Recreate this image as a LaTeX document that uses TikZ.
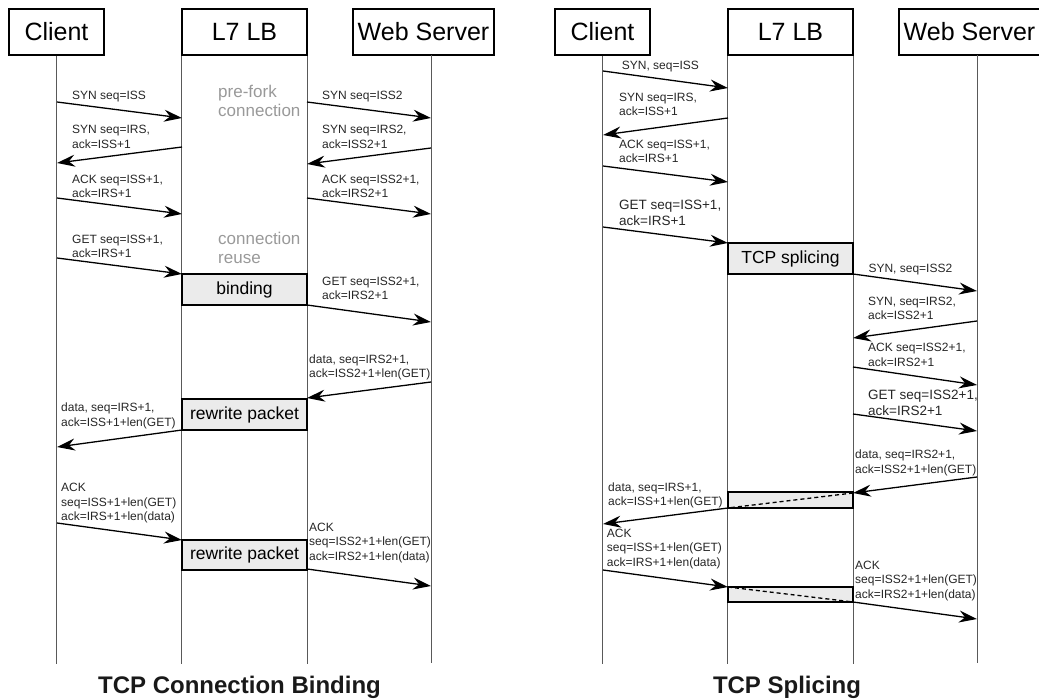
\documentclass[tikz,border=0pt]{standalone}
\usepackage{fontspec}
\setmainfont{Liberation Sans}
\usetikzlibrary{
	positioning,
	arrows.meta
}

\tikzset{
	head/.style={draw, line width=1.1pt, minimum height=46pt, inner sep=0pt, font=\fontsize{25}{25}\selectfont},
	life/.style={draw=black!65, line width=0.9pt},
	msg/.style={-{Stealth[length=18pt,width=12pt,inset=6pt]}, line width=1.3pt},
	lbl/.style={anchor=west, align=left, inner sep=0pt, text=black!85, font=\fontsize{12}{14.5}\selectfont},
	biglbl/.style={lbl, font=\fontsize{13.5}{15.5}\selectfont},
	note/.style={anchor=west, align=left, inner sep=0pt, text=black!40, font=\fontsize{17}{19.5}\selectfont},
	proc/.style={draw, fill=black!8, line width=1.6pt, minimum width=125pt, inner sep=0pt, font=\fontsize{17.5}{17.5}\selectfont},
	caption/.style={font=\bfseries\fontsize{24}{24}\selectfont, text=black!90}
}

\begin{document}
\begin{tikzpicture}[x=1pt, y=-1pt]
		\useasboundingbox (0,0) rectangle (1039,700);

		% the three lanes, once per diagram
		\foreach \dx/\p in {0/l, 546/r} {
			\begin{scope}[xshift=\dx]
				\node[head, minimum width=95pt] (\p cl) at (56.5,32) {Client};
				\node[head, minimum width=125pt] (\p lb) at (244.5,32) {L7 LB};
				\node[head, minimum width=141pt] (\p ws) at (423.5,32) {Web Server};
				\coordinate (\p wstop) at (431,55);
				\draw[life] (\p cl.south) -- ++(0,608);
				\draw[life] (\p lb.south west) -- ++(0,608);
				\draw[life] (\p lb.south east) -- ++(0,608);
				\draw[life] (\p wstop) -- ++(0,608);
			\end{scope}
		}

		% connection binding
		\node[note] (prefork) at (218,101) {pre-fork\\connection};
		\node[note] (reuse) at (218,248) {connection\\reuse};
		\node[proc, minimum height=31pt] (bind) at (244.5,289.5) {binding};
		\node[proc, minimum height=31pt] (rw1) at (244.5,414.5) {rewrite packet};
		\node[proc, minimum height=30pt] (rw2) at (244.5,555) {rewrite packet};

		\foreach \n/\xa/\ya/\xb/\yb in {1/57/102/182/118, 2/182/147/57/163, 3/57/198/182/214,
				4/57/258/182/274, 5/307/102/431/118, 6/431/148/307/164, 7/307/198/431/214,
				8/307/305/431/322, 9/431/382/307/398, 10/182/430/57/447, 11/57/523/182/540,
				12/307/569/431/586} {
			\coordinate (ls\n) at (\xa,\ya);
			\coordinate (le\n) at (\xb,\yb);
			\draw[msg] (ls\n) -- (le\n);
		}

		\node[lbl] (lm1) at (72,97) {SYN seq=ISS};
		\node[lbl] (lm2) at (72,137) {SYN seq=IRS,\\ack=ISS+1};
		\node[lbl] (lm3) at (72,186.5) {ACK seq=ISS+1,\\ack=IRS+1};
		\node[lbl] (lm4) at (72,246.5) {GET seq=ISS+1,\\ack=IRS+1};
		\node[lbl] (lm5) at (322,97) {SYN seq=ISS2};
		\node[lbl] (lm6) at (322,137) {SYN seq=IRS2,\\ack=ISS2+1};
		\node[lbl] (lm7) at (322,186.5) {ACK seq=ISS2+1,\\ack=IRS2+1};
		\node[lbl] (lm8) at (322,288.5) {GET seq=ISS2+1,\\ack=IRS2+1};
		\node[lbl] (lm9) at (309,367.5) {data, seq=IRS2+1,\\ack=ISS2+1+len(GET)};
		\node[lbl] (lm10) at (61,416) {data, seq=IRS+1,\\ack=ISS+1+len(GET)};
		\node[lbl] (lm11) at (61,503.3) {ACK\\seq=ISS+1+len(GET)\\ack=IRS+1+len(data)};
		\node[lbl] (lm12) at (309,543) {ACK\\seq=ISS2+1+len(GET)\\ack=IRS2+1+len(data)};

		\node[caption] (ltitle) at (239.5,687) {TCP Connection Binding};

		% splicing
		\begin{scope}[xshift=546]
			\node[proc, minimum height=31pt] (splice) at (244.5,258.5) {TCP splicing};
			\node[proc, minimum height=16pt] (pass1) at (244.5,500) {};
			\node[proc, minimum height=15pt] (pass2) at (244.5,594.5) {};

			\foreach \n/\xa/\ya/\xb/\yb in {1/57/71/182/88, 2/182/118/57/135, 3/57/166/182/182,
					4/57/227/182/243, 5/307/274/431/291, 6/431/321/307/338, 7/307/367/431/385,
					8/307/414/431/431, 9/431/477/307/493, 10/182/508/57/524, 11/57/570/182/587,
					12/307/602/431/619} {
				\coordinate (rs\n) at (\xa,\ya);
				\coordinate (re\n) at (\xb,\yb);
				\draw[msg] (rs\n) -- (re\n);
			}
			\draw[line width=1.3pt, dash pattern=on 4pt off 3pt] (re9) -- (rs10);
			\draw[line width=1.3pt, dash pattern=on 4pt off 3pt] (re11) -- (rs12);

			\node[lbl] (rm1) at (75.7,66.7) {SYN, seq=ISS};
			\node[lbl] (rm2) at (73,104.5) {SYN seq=IRS,\\ack=ISS+1};
			\node[lbl] (rm3) at (73,151.5) {ACK seq=ISS+1,\\ack=IRS+1};
			\node[biglbl] (rm4) at (73,213) {GET seq=ISS+1,\\ack=IRS+1};
			\node[lbl] (rm5) at (322.3,270) {SYN, seq=ISS2};
			\node[lbl] (rm6) at (322,308.5) {SYN, seq=IRS2,\\ack=ISS2+1};
			\node[lbl] (rm7) at (322,355) {ACK seq=ISS2+1,\\ack=IRS2+1};
			\node[biglbl] (rm8) at (322,403) {GET seq=ISS2+1,\\ack=IRS2+1};
			\node[lbl] (rm9) at (309,463) {data, seq=IRS2+1,\\ack=ISS2+1+len(GET)};
			\node[lbl] (rm10) at (62,495.5) {data, seq=IRS+1,\\ack=ISS+1+len(GET)};
			\node[lbl] (rm11) at (60.7,549) {ACK\\seq=ISS+1+len(GET)\\ack=IRS+1+len(data)};
			\node[lbl] (rm12) at (309,581) {ACK\\seq=ISS2+1+len(GET)\\ack=IRS2+1+len(data)};

			\node[caption] (rtitle) at (241,687) {TCP Splicing};
		\end{scope}
	\end{tikzpicture}
\end{document}
